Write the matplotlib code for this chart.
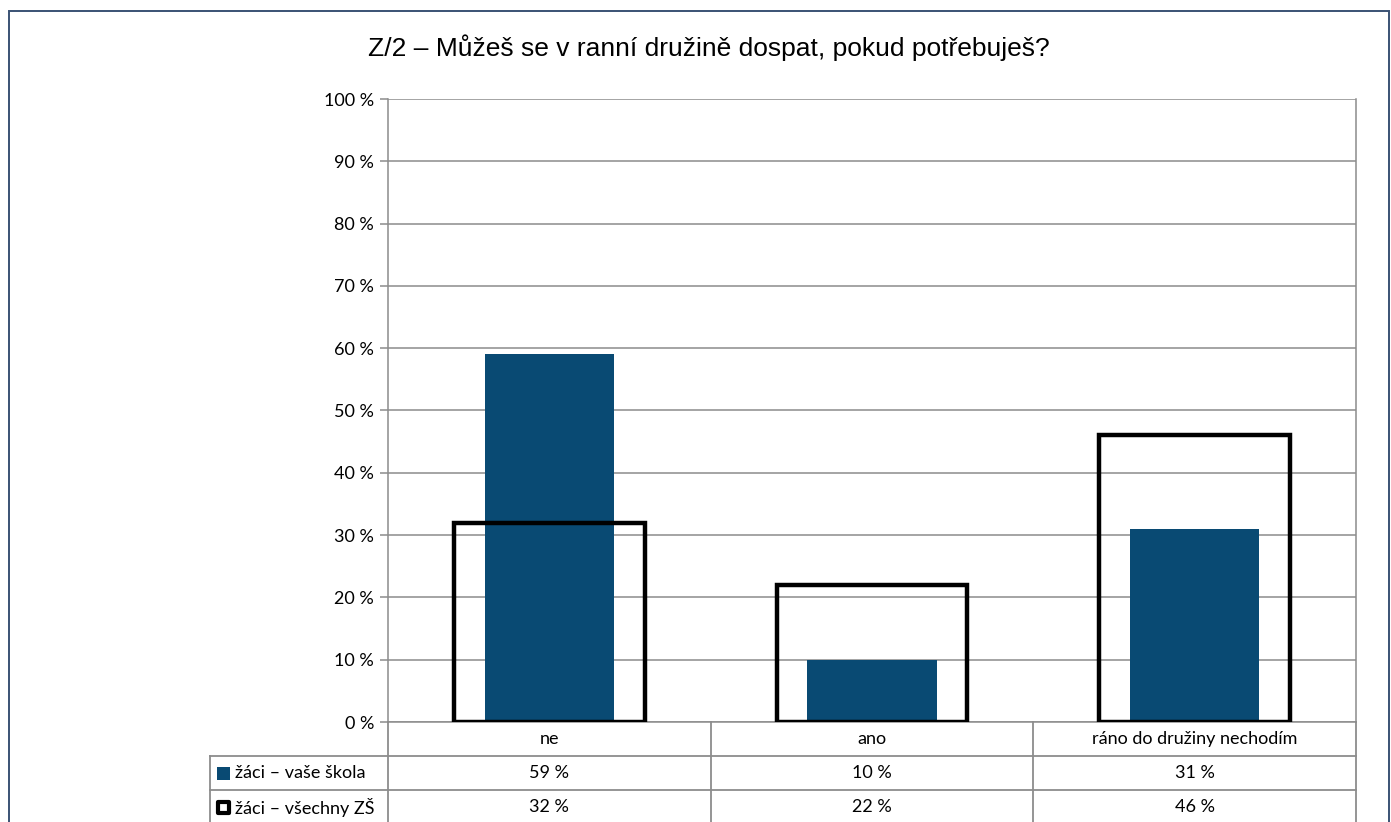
import matplotlib
matplotlib.use("Agg")
import matplotlib.pyplot as plt
from matplotlib.patches import Rectangle
from matplotlib.transforms import blended_transform_factory

# data
categories = ["ne", "ano", "ráno do družiny nechodím"]
series_names = ["žáci – vaše škola", "žáci – všechny ZŠ"]
school = [59, 10, 31]
all_schools = [32, 22, 46]
title = "Z/2 – Můžeš se v ranní družině dospat, pokud potřebuješ?"

W, H = 1391, 822
blue = "#094a73"
grid_c = "#8c8c8c"
fs = 13
plt.rcParams['font.family'] = ['Lato', 'DejaVu Sans']

fig = plt.figure(figsize=(W / 100, H / 100), dpi=100)
ax = fig.add_axes([388 / W, (H - 722) / H, (1356 - 388) / W, (722 - 99) / H])
aw, ah = 1356 - 388, 722 - 99

x = list(range(len(categories)))
ax.bar(x, school, width=0.40, color=blue, zorder=2)
ax.bar(x, all_schools, width=0.59, facecolor="none", edgecolor="black",
       linewidth=3.2, zorder=3)

ax.set_xlim(-0.5, len(categories) - 0.5)
ax.set_ylim(0, 100)
ax.set_yticks(range(0, 101, 10))
ax.set_yticklabels([f"{v} %" for v in range(0, 101, 10)], fontsize=fs)
ax.set_xticks([])
ax.yaxis.grid(True, color=grid_c, linewidth=1.1, zorder=0)
ax.tick_params(axis="y", length=6, color=grid_c, width=1.1, pad=4)
for s in ax.spines.values():
    s.set_color(grid_c)
    s.set_linewidth(1.1)
ax.spines["top"].set_visible(False)

# data table below the axes
row_h = 34 / ah
tr = blended_transform_factory(ax.transData, ax.transAxes)
leg_x = (210 - 388) / aw
lkw = dict(color=grid_c, linewidth=1.3, clip_on=False)

# table grid lines
for i in range(1, 4):
    ax.plot([leg_x, 1], [-i * row_h, -i * row_h], transform=ax.transAxes, **lkw)
ax.plot([0, 0], [0, -3 * row_h], transform=ax.transAxes, **lkw)
ax.plot([leg_x, leg_x], [-row_h, -3 * row_h], transform=ax.transAxes, **lkw)
ax.plot([1, 1], [0, -3 * row_h], transform=ax.transAxes, **lkw)
for b in range(1, len(categories)):
    ax.plot([b - 0.5, b - 0.5], [0, -3 * row_h], transform=tr, **lkw)

for i, c in enumerate(categories):
    ax.text(i, -0.5 * row_h, c, transform=tr, ha="center", va="center", fontsize=fs)
    ax.text(i, -1.5 * row_h, f"{school[i]} %", transform=tr, ha="center", va="center", fontsize=fs)
    ax.text(i, -2.5 * row_h, f"{all_schools[i]} %", transform=tr, ha="center", va="center", fontsize=fs)

# legend keys inside table (sizes in px)
ax.add_patch(Rectangle(((217 - 388) / aw, -1.5 * row_h - 6.5 / ah), 13 / aw, 13 / ah,
                       transform=ax.transAxes, facecolor=blue, edgecolor="none", clip_on=False))
ax.add_patch(Rectangle(((218 - 388) / aw, -2.5 * row_h - 5.5 / ah), 11 / aw, 11 / ah,
                       transform=ax.transAxes, facecolor="white", edgecolor="black",
                       linewidth=3, joinstyle="round", clip_on=False))
text_x = (235 - 388) / aw
ax.text(text_x, -1.5 * row_h, series_names[0], transform=ax.transAxes,
        ha="left", va="center", fontsize=fs)
ax.text(text_x, -2.5 * row_h, series_names[1], transform=ax.transAxes,
        ha="left", va="center", fontsize=fs)

fig.text(709 / W, 1 - 48 / H, title, ha="center", va="center", fontsize=19,
         family="Liberation Sans")

# outer chart border
fig.patches.append(Rectangle((9 / W, -0.05), (1389 - 9) / W, 1.05 - 11 / H,
                             transform=fig.transFigure, fill=False,
                             edgecolor="#3a5274", linewidth=1.4))

fig.savefig("out.png", dpi=100)
